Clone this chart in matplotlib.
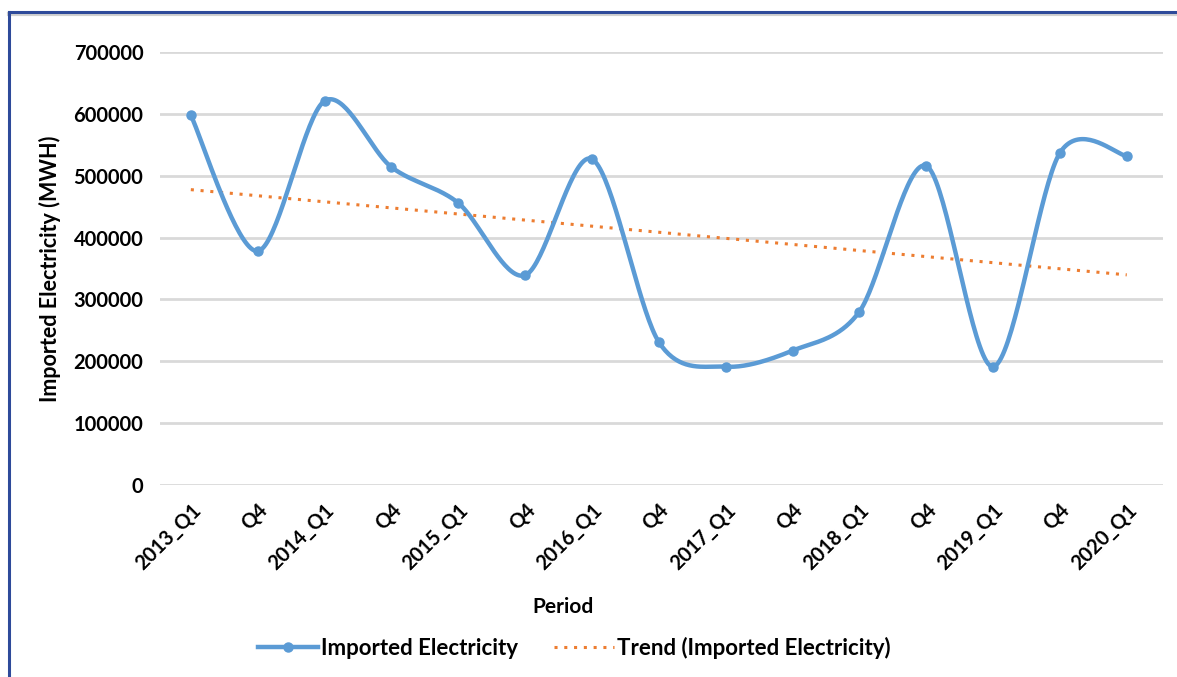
import matplotlib
matplotlib.use("Agg")
import matplotlib.pyplot as plt
from matplotlib.lines import Line2D
import numpy as np

periods = ["2013_Q1", "Q4", "2014_Q1", "Q4", "2015_Q1", "Q4", "2016_Q1", "Q4",
           "2017_Q1", "Q4", "2018_Q1", "Q4", "2019_Q1", "Q4", "2020_Q1"]
imported = [598000, 378000, 621000, 514000, 456000, 339000, 527000, 231000,
            191000, 217000, 280000, 516000, 191000, 537000, 532000]
yticks = [0, 100000, 200000, 300000, 400000, 500000, 600000, 700000]

BLUE = "#5b9bd5"
ORANGE = "#ed7d31"
plt.rcParams['font.family'] = ['Lato', 'DejaVu Sans']
plt.rcParams['font.weight'] = 'bold'


def smooth(xs, ys, n=40):
    # Catmull-Rom style bezier smoothing, like a "smoothed line" chart
    xs = np.asarray(xs, float)
    ys = np.asarray(ys, float)
    px, py = [], []
    k = len(xs)
    for i in range(k - 1):
        i0, i3 = max(i - 1, 0), min(i + 2, k - 1)
        p0 = np.array([xs[i], ys[i]])
        p3 = np.array([xs[i + 1], ys[i + 1]])
        c1 = p0 + (p3 - np.array([xs[i0], ys[i0]])) / 6.5
        c2 = p3 - (np.array([xs[i3], ys[i3]]) - p0) / 6.5
        t = np.linspace(0, 1, n)[:, None]
        pts = ((1 - t) ** 3) * p0 + 3 * ((1 - t) ** 2) * t * c1 + 3 * (1 - t) * t ** 2 * c2 + t ** 3 * p3
        px.extend(pts[:, 0])
        py.extend(pts[:, 1])
    return px, py


fig = plt.figure(figsize=(11.77, 6.77), dpi=100)
ax = fig.add_axes([0.136, 0.284, 0.852, 0.639])

x = np.arange(len(periods))
sx, sy = smooth(x, imported)
ax.plot(sx, sy, color=BLUE, linewidth=3.2, solid_capstyle='round', zorder=3)
ax.plot(x, imported, 'o', color=BLUE, markersize=6.5, zorder=4)

slope, icpt = np.polyfit(x, imported, 1)
ax.plot([x[0], x[-1]], [icpt + slope * x[0], icpt + slope * x[-1]],
        color=ORANGE, linestyle=(0, (1, 2.2)), linewidth=2.2, zorder=2)

ax.set_xlim(-0.46, 14.54)
ax.set_ylim(0, 700000)
ax.set_yticks(yticks)
ax.set_yticklabels([str(v) for v in yticks], fontsize=14.5, fontweight='bold')
ax.set_xticks(x)
ax.set_xticklabels(periods, rotation=45, ha='right', rotation_mode='anchor',
                   fontsize=14.5, fontweight='bold')
ax.tick_params(length=0, pad=12)
ax.tick_params(axis='x', pad=11)
ax.grid(axis='y', color='#d9d9d9', linewidth=2)
ax.set_axisbelow(True)
for s in ax.spines.values():
    s.set_visible(False)

ax.set_ylabel("Imported Electricity (MWH)", fontsize=15.5, fontweight='bold', labelpad=9)
fig.text(0.478, 0.104, "Period", ha='center', va='center', fontsize=15, fontweight='bold')

handles = [Line2D([], [], color=BLUE, linewidth=3.2, marker='o', markersize=6.5),
           Line2D([], [], color=ORANGE, linestyle=(0, (1, 2.2)), linewidth=2.2)]
fig.legend(handles, ["Imported Electricity", "Trend (Imported Electricity)"],
           loc='center', bbox_to_anchor=(0.488, 0.043), ncol=2, frameon=False,
           fontsize=16, handlelength=2.7, columnspacing=1.6, handletextpad=0.15)

# frame of the surrounding document box
fig.add_artist(Line2D([0.008, 1.0], [0.980, 0.980], color='#d0d0d0', linewidth=3))
fig.add_artist(Line2D([0.008, 1.0], [0.983, 0.983], color='#2e4a9a', linewidth=2.2))
fig.add_artist(Line2D([0.008, 0.008], [0.0, 0.983], color='#2e4a9a', linewidth=2.2))

fig.savefig("out.png", dpi=100)
